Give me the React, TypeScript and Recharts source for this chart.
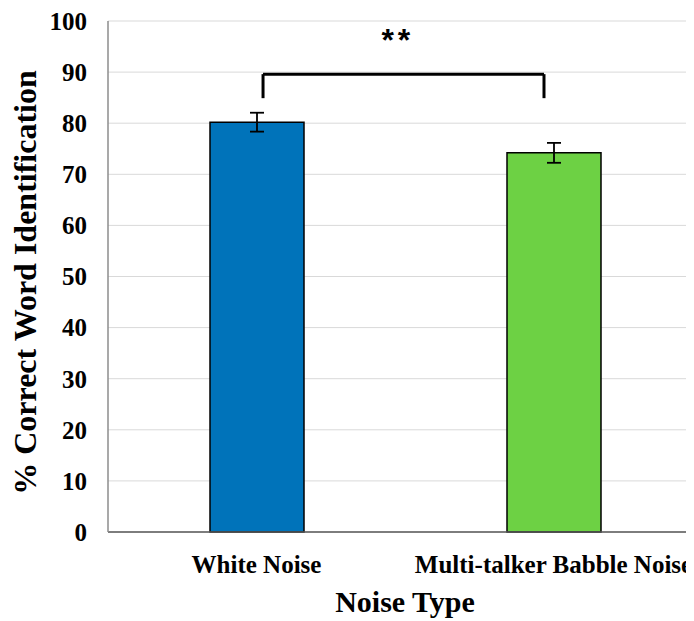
import React from "react";
import { BarChart, Bar, XAxis, YAxis, CartesianGrid, ErrorBar, Cell, ReferenceLine, ReferenceDot, Label } from "recharts";

const categories = ["White Noise", "Multi-talker Babble Noise"];
const means = [80.2, 74.2];
const errors = [1.85, 1.95];
const colors = ["#0073BA", "#6DD144"];
const yTicks = [0, 10, 20, 30, 40, 50, 60, 70, 80, 90, 100];
const bracketX = [0.261, 0.734];
const bracketTopY = 89.6;
const bracketBottomY = 84.9;
const starsLabel = "**";
const starsPos = { x: 0.488, y: 96.3 };

const data = categories.map((name, i) => ({ name, value: means[i], err: errors[i] }));

const serif = "'Liberation Serif', 'Times New Roman', serif";

export default function App() {
  return (
    <div style={{ marginLeft: -8, marginTop: -8, width: 702, height: 621, background: "#fff" }}>
      <BarChart width={702} height={621} data={data} margin={{ top: 21, right: 0, left: 0, bottom: 0 }}>
        <CartesianGrid vertical={false} stroke="#d9d9d9" strokeWidth={1} />
        <XAxis
          dataKey="name"
          height={89}
          tickLine={false}
          tickSize={0}
          tickMargin={23}
          axisLine={{ stroke: "#595959", strokeWidth: 1.5 }}
          tick={{ fill: "#000", fontFamily: serif, fontWeight: 700, fontSize: 25 }}
          interval={0}
        >
          <Label value="Noise Type" position="insideBottom" offset={9} style={{ fill: "#000", fontFamily: serif, fontWeight: 700, fontSize: 30 }} />
        </XAxis>
        <XAxis xAxisId="n" type="number" domain={[0, 1]} hide allowDataOverflow />
        <YAxis
          width={108}
          domain={[0, 100]}
          ticks={yTicks}
          interval={0}
          tickLine={false}
          tickSize={0}
          tickMargin={21}
          axisLine={{ stroke: "#8c8c8c", strokeWidth: 1.5 }}
          tick={{ fill: "#000", fontFamily: serif, fontWeight: 700, fontSize: 25 }}
        >
          <Label value="% Correct Word Identification" angle={-90} position="center" dx={-29} dy={6} style={{ fill: "#000", fontFamily: serif, fontWeight: 700, fontSize: 32, textAnchor: "middle" }} />
        </YAxis>
        <Bar dataKey="value" barSize={94} stroke="#000" strokeWidth={1.5} isAnimationActive={false}>
          {data.map((d, i) => (
            <Cell key={d.name} fill={colors[i]} />
          ))}
          <ErrorBar dataKey="err" width={7} stroke="#000" strokeWidth={1.8} direction="y" />
        </Bar>
        <ReferenceLine xAxisId="n" segment={[{ x: bracketX[0], y: bracketBottomY }, { x: bracketX[0], y: bracketTopY }]} stroke="#000" strokeWidth={3} />
        <ReferenceLine xAxisId="n" segment={[{ x: bracketX[0], y: bracketTopY }, { x: bracketX[1], y: bracketTopY }]} stroke="#000" strokeWidth={3} />
        <ReferenceLine xAxisId="n" segment={[{ x: bracketX[1], y: bracketTopY }, { x: bracketX[1], y: bracketBottomY }]} stroke="#000" strokeWidth={3} />
        <ReferenceDot xAxisId="n" x={starsPos.x} y={starsPos.y} r={0} fill="none" stroke="none">
          <Label value={starsLabel} position="center" style={{ fill: "#000", fontFamily: "'Liberation Sans', Arial, sans-serif", fontWeight: 700, fontSize: 32, letterSpacing: 4 }} />
        </ReferenceDot>
      </BarChart>
    </div>
  );
}
